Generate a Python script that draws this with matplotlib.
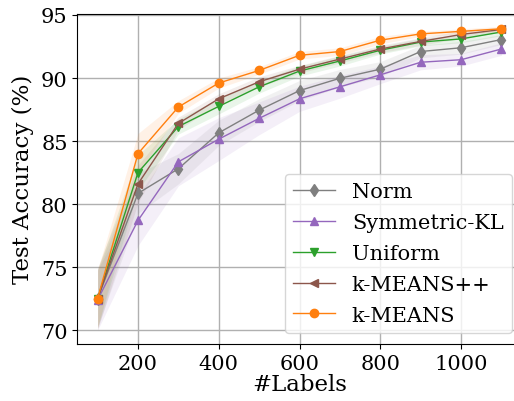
import matplotlib
matplotlib.use("Agg")
import matplotlib.pyplot as plt
import numpy as np

labels = [100, 200, 300, 400, 500, 600, 700, 800, 900, 1000, 1100]

norm_mean = [72.5, 80.85, 82.8, 85.65, 87.45, 89.0, 89.98, 90.7, 92.1, 92.4, 93.05]
norm_std = [2.3, 1.6, 1.2, 1.0, 0.9, 0.8, 0.7, 0.6, 0.5, 0.5, 0.4]

skl_mean = [72.4, 78.7, 83.35, 85.15, 86.8, 88.35, 89.3, 90.25, 91.25, 91.45, 92.3]
skl_std = [2.4, 2.0, 1.9, 1.7, 1.3, 1.0, 0.9, 0.7, 0.6, 0.5, 0.5]

uni_mean = [72.5, 82.5, 86.15, 87.75, 89.3, 90.55, 91.35, 92.2, 92.85, 93.1, 93.65]
uni_std = [2.3, 1.4, 0.6, 0.6, 0.5, 0.4, 0.4, 0.3, 0.3, 0.3, 0.3]

kpp_mean = [72.5, 81.6, 86.4, 88.35, 89.7, 90.7, 91.5, 92.3, 92.9, 93.45, 93.85]
kpp_std = [2.45, 1.5, 0.5, 0.4, 0.4, 0.3, 0.3, 0.3, 0.3, 0.3, 0.2]

km_mean = [72.5, 84.0, 87.7, 89.6, 90.6, 91.8, 92.1, 93.0, 93.5, 93.7, 93.9]
km_std = [2.3, 1.6, 0.5, 0.4, 0.3, 0.3, 0.3, 0.3, 0.2, 0.2, 0.2]

series = [
    ("Norm", norm_mean, norm_std, "#7f7f7f", "d"),
    ("Symmetric-KL", skl_mean, skl_std, "#9467bd", "^"),
    ("Uniform", uni_mean, uni_std, "#2ca02c", "v"),
    ("k-MEANS++", kpp_mean, kpp_std, "#8c564b", "<"),
    ("k-MEANS", km_mean, km_std, "#ff7f0e", "o"),
]

plt.rcParams["font.family"] = "DejaVu Serif"
plt.rcParams["mathtext.fontset"] = "dejavuserif"

fig = plt.figure(figsize=(5.14, 4.02), dpi=100)
ax = fig.add_axes([0.1506, 0.1418, 0.8642, 0.8216])

x = np.array(labels)
for name, mean, std, color, marker in series:
    m = np.array(mean)
    s = np.array(std)
    ax.plot(x, m, color=color, marker=marker, markersize=6, linewidth=1.0,
            label=name)
    ax.fill_between(x, m - s, m + s, color=color, alpha=0.1, linewidth=0)

ax.set_xlim(50, 1150)
ax.set_ylim(68.9, 95.1)
ax.set_xticks([200, 400, 600, 800, 1000])
ax.set_yticks([70, 75, 80, 85, 90, 95])
ax.grid(True, color="#b0b0b0", linewidth=1.0)
ax.set_axisbelow(True)
ax.tick_params(labelsize=15)
ax.set_xlabel("#Labels", fontsize=16.5, labelpad=0)
ax.set_ylabel("Test Accuracy (%)", fontsize=16.5, labelpad=5)

ax.legend(loc="lower right", fontsize=15, bbox_to_anchor=(0.978, 0.033),
          labelspacing=0.57, borderaxespad=0.0)

fig.savefig("out.png", dpi=100)
